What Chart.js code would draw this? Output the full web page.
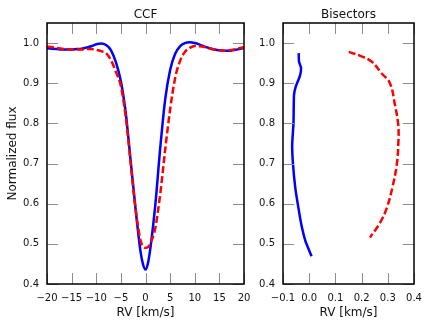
<!DOCTYPE html>
<html>
<head>
<meta charset="utf-8">
<script src="https://cdn.jsdelivr.net/npm/chart.js@4/dist/chart.umd.min.js"></script>
<style>
    body { margin: 0; background: #fff; }
    #wrap { position: relative; width: 436px; height: 327px; }
    canvas { position: absolute; top: 0; }
    #ccf { left: 0; }
    #bis { left: 250px; }
</style>
</head>
<body>
<div id="wrap">
    <canvas id="ccf" width="260" height="327"></canvas>
    <canvas id="bis" width="186" height="327"></canvas>
</div>
<script>
// CCF profiles
const rv = [-20, -19, -18, -17, -16, -15, -14, -13, -12, -11, -10, -9, -8, -7, -6, -5, -4, -3, -2, -1, -0.5,
    0, 0.5, 1, 2, 3, 4, 5, 6, 7, 8, 9, 10, 11, 12, 13, 14, 15, 16, 17, 18, 19, 20];
const ccfBlue = [0.987, 0.986, 0.985, 0.984, 0.984, 0.984, 0.985, 0.986, 0.989, 0.992, 0.997, 0.999, 0.995, 0.982, 0.952, 0.905, 0.825, 0.705, 0.585, 0.480, 0.449,
    0.436, 0.452, 0.490, 0.598, 0.740, 0.860, 0.933, 0.973, 0.992, 1.000, 1.002, 1.000, 0.996, 0.991, 0.987, 0.984, 0.982, 0.981, 0.981, 0.983, 0.985, 0.988];
const ccfRed = [0.991, 0.990, 0.988, 0.986, 0.985, 0.984, 0.984, 0.984, 0.985, 0.985, 0.983, 0.980, 0.975, 0.957, 0.928, 0.893, 0.815, 0.700, 0.585, 0.508, 0.494,
    0.490, 0.492, 0.502, 0.540, 0.625, 0.735, 0.835, 0.912, 0.955, 0.978, 0.988, 0.993, 0.992, 0.990, 0.987, 0.984, 0.982, 0.981, 0.982, 0.984, 0.987, 0.990];

// bisectors (top to bottom)
const bisBlueFlux = [0.975, 0.954, 0.938, 0.917, 0.892, 0.871, 0.800, 0.747, 0.700, 0.639, 0.597, 0.548, 0.506, 0.469];
const bisBlueRV = [-0.040, -0.039, -0.031, -0.036, -0.051, -0.058, -0.060, -0.065, -0.062, -0.053, -0.043, -0.030, -0.014, 0.009];
const bisRedFlux = [0.978, 0.967, 0.954, 0.925, 0.900, 0.847, 0.795, 0.747, 0.696, 0.639, 0.589, 0.552, 0.516];
const bisRedRV = [0.151, 0.200, 0.238, 0.276, 0.308, 0.327, 0.340, 0.340, 0.334, 0.317, 0.296, 0.270, 0.232];

// tick labels
const fluxTicks = [0.4, 0.5, 0.6, 0.7, 0.8, 0.9, 1.0];
const rvTicks = [-20, -15, -10, -5, 0, 5, 10, 15, 20];
const bisTicks = [-0.1, 0.0, 0.1, 0.2, 0.3, 0.4];

const FONT = 'DejaVu Sans';
const minus = s => s.replace('-', '\u2212');

// matplotlib-like box with inward ticks on all sides
const frame = {
    id: 'frame',
    afterDatasetsDraw(chart) {
        const { ctx, chartArea: a, scales } = chart;
        const len = 11;
        ctx.save();
        ctx.strokeStyle = '#8c8c8c';
        ctx.lineWidth = 1;
        ctx.beginPath();
        scales.x.ticks.forEach(t => {
            const x = Math.round(scales.x.getPixelForValue(t.value)) + 0.5;
            ctx.moveTo(x, a.bottom); ctx.lineTo(x, a.bottom - len);
            ctx.moveTo(x, a.top); ctx.lineTo(x, a.top + len);
        });
        scales.y.ticks.forEach(t => {
            const y = Math.round(scales.y.getPixelForValue(t.value)) + 0.5;
            ctx.moveTo(a.left, y); ctx.lineTo(a.left + len, y);
            ctx.moveTo(a.right, y); ctx.lineTo(a.right - len, y);
        });
        ctx.stroke();
        ctx.strokeStyle = '#000';
        ctx.lineWidth = 1.5;
        ctx.strokeRect(a.left, a.top, a.right - a.left, a.bottom - a.top);
        ctx.restore();
    }
};

function yAxis(width, withTitle) {
    return {
        type: 'linear',
        min: 0.4,
        max: 1.05,
        afterBuildTicks: s => { s.ticks = fluxTicks.map(v => ({ value: v })); },
        afterFit: s => { s.width = width; },
        grid: { display: false, drawTicks: false },
        border: { display: false },
        ticks: {
            padding: 8,
            color: '#111',
            font: { family: FONT, size: 10 },
            callback: v => v.toFixed(1)
        },
        title: {
            display: withTitle,
            text: 'Normalized flux',
            color: '#111',
            font: { family: FONT, size: 12 },
            padding: { top: 5.5, bottom: 0 }
        }
    };
}

function xAxis(min, max, ticks, fmt) {
    return {
        type: 'linear',
        min: min,
        max: max,
        afterBuildTicks: s => { s.ticks = ticks.map(v => ({ value: v })); },
        afterFit: s => { s.height = 43; },
        grid: { display: false, drawTicks: false },
        border: { display: false },
        ticks: {
            padding: 8,
            autoSkip: false,
            maxRotation: 0,
            color: '#111',
            font: { family: FONT, size: 10 },
            callback: fmt
        },
        title: {
            display: true,
            text: 'RV [km/s]',
            color: '#111',
            font: { family: FONT, size: 12 },
            padding: { top: 0, bottom: 7 }
        }
    };
}

function titleOpts(text) {
    return {
        display: true,
        text: text,
        fullSize: false,
        color: '#111',
        font: { family: FONT, size: 12, weight: 'normal' },
        padding: { top: 8, bottom: 0.6 }
    };
}

new Chart(document.getElementById('ccf'), {
    type: 'line',
    data: {
        datasets: [{
            data: rv.map((x, i) => ({ x: x, y: ccfBlue[i] })),
            borderColor: '#0000ff',
            borderWidth: 2.5,
            pointRadius: 0,
            cubicInterpolationMode: 'monotone',
            order: 2
        }, {
            data: rv.map((x, i) => ({ x: x, y: ccfRed[i] })),
            borderColor: '#ff0000',
            borderWidth: 2.5,
            borderDash: [7, 3],
            pointRadius: 0,
            cubicInterpolationMode: 'monotone',
            order: 1
        }]
    },
    options: {
        responsive: false,
        animation: false,
        layout: { padding: { left: 0, right: 16, bottom: 0 } },
        plugins: {
            legend: { display: false },
            tooltip: { enabled: false },
            title: titleOpts('CCF')
        },
        scales: {
            x: xAxis(-20, 20, rvTicks, v => minus(String(v))),
            y: yAxis(47, true)
        }
    },
    plugins: [frame]
});

new Chart(document.getElementById('bis'), {
    type: 'scatter',
    data: {
        datasets: [{
            data: bisBlueRV.map((x, i) => ({ x: x, y: bisBlueFlux[i] })),
            showLine: true,
            borderColor: '#0000ff',
            borderWidth: 2.5,
            pointRadius: 0,
            tension: 0.15,
            order: 2
        }, {
            data: bisRedRV.map((x, i) => ({ x: x, y: bisRedFlux[i] })),
            showLine: true,
            borderColor: '#ff0000',
            borderWidth: 2.5,
            borderDash: [7, 3],
            pointRadius: 0,
            tension: 0.4,
            order: 1
        }]
    },
    options: {
        responsive: false,
        animation: false,
        layout: { padding: { left: 0, right: 22, bottom: 0 } },
        plugins: {
            legend: { display: false },
            tooltip: { enabled: false },
            title: titleOpts('Bisectors')
        },
        scales: {
            x: xAxis(-0.1, 0.4, bisTicks, v => minus(v.toFixed(1))),
            y: yAxis(33, false)
        }
    },
    plugins: [frame]
});
</script>
</body>
</html>
